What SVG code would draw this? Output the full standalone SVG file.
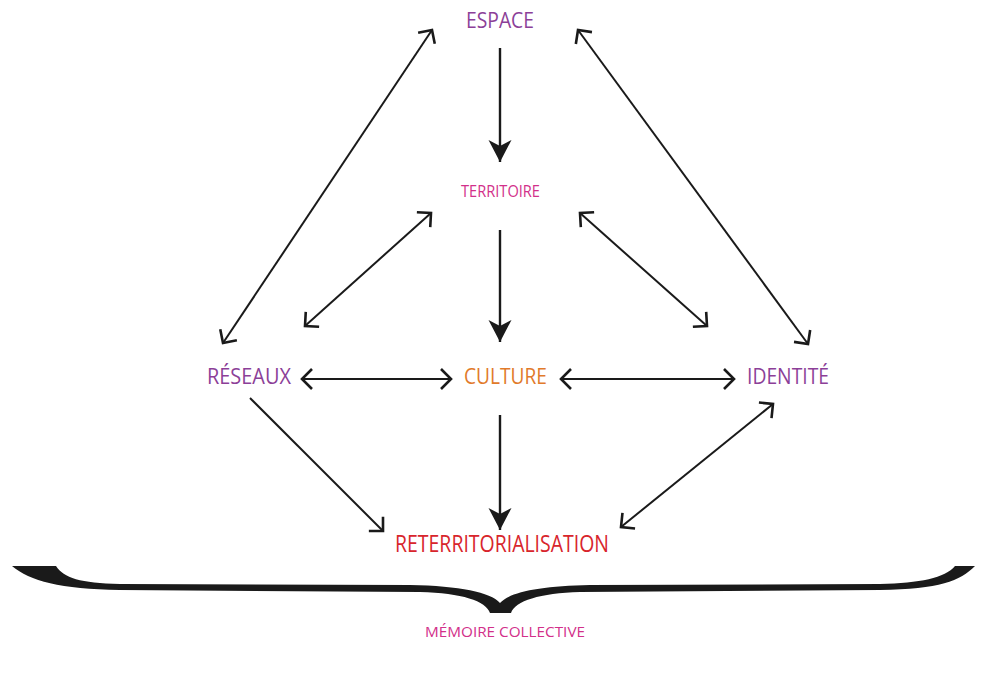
<svg xmlns="http://www.w3.org/2000/svg" width="985" height="673" viewBox="0 0 985 673">
<style>
.t{font-family:"Open Sans","Noto Sans","Liberation Sans",sans-serif;}
.purple{fill:#8c3f98;}
.mag{fill:#d2308a;}
.orange{fill:#e17a2a;}
.red{fill:#d8252c;}
.c{stroke:#1a1a1a;stroke-width:2;fill:none;}
.v{stroke:#1a1a1a;stroke-width:2.4;fill:none;}
</style>
<defs>
<marker id="open" markerUnits="userSpaceOnUse" markerWidth="30" markerHeight="30" refX="0" refY="0" viewBox="-15 -15 30 30" orient="auto-start-reverse" overflow="visible">
<path d="M-10,-10 L0,0 L-10,10" fill="none" stroke="#1a1a1a" stroke-width="2.6" stroke-linejoin="miter"/>
</marker>
<marker id="solid" markerUnits="userSpaceOnUse" markerWidth="30" markerHeight="30" refX="0" refY="0" viewBox="-25 -15 30 30" orient="auto" overflow="visible">
<path d="M0,0 L-22,-11.5 L-16,0 L-22,11.5 Z" fill="#1a1a1a"/>
</marker>
</defs>
<rect width="985" height="673" fill="#ffffff"/>
<g id="connectors">
<line class="v" x1="500" y1="48" x2="500" y2="162" marker-end="url(#solid)"/>
<line class="v" x1="500" y1="230" x2="500" y2="342" marker-end="url(#solid)"/>
<line class="v" x1="500" y1="415" x2="500" y2="530" marker-end="url(#solid)"/>
<line class="c" x1="223" y1="343" x2="432" y2="30" marker-start="url(#open)" marker-end="url(#open)"/>
<line class="c" x1="578" y1="30" x2="808" y2="344" marker-start="url(#open)" marker-end="url(#open)"/>
<line class="c" x1="305" y1="326" x2="431" y2="213" marker-start="url(#open)" marker-end="url(#open)"/>
<line class="c" x1="580" y1="213" x2="707" y2="326" marker-start="url(#open)" marker-end="url(#open)"/>
<line class="c" x1="302" y1="379" x2="451" y2="379" marker-start="url(#open)" marker-end="url(#open)"/>
<line class="c" x1="561" y1="379" x2="734" y2="379" marker-start="url(#open)" marker-end="url(#open)"/>
<line class="c" x1="250" y1="398" x2="383" y2="531" marker-end="url(#open)"/>
<line class="c" x1="621" y1="527" x2="773" y2="404" marker-start="url(#open)" marker-end="url(#open)"/>
</g>
<g id="espace"><text class="t purple" x="466" y="28" font-size="22" textLength="68" lengthAdjust="spacingAndGlyphs">ESPACE</text></g>
<g id="territoire"><text class="t mag" x="461" y="197" font-size="16" textLength="79" lengthAdjust="spacingAndGlyphs">TERRITOIRE</text></g>
<g id="reseaux"><text class="t purple" x="207" y="384" font-size="22" textLength="84" lengthAdjust="spacingAndGlyphs">RÉSEAUX</text></g>
<g id="culture"><text class="t orange" x="464" y="384" font-size="22" textLength="83" lengthAdjust="spacingAndGlyphs">CULTURE</text></g>
<g id="identite"><text class="t purple" x="747" y="384" font-size="22" textLength="82" lengthAdjust="spacingAndGlyphs">IDENTITÉ</text></g>
<g id="reterritorialisation"><text class="t red" x="395" y="552" font-size="23" textLength="214" lengthAdjust="spacingAndGlyphs">RETERRITORIALISATION</text></g>
<g id="brace"><path fill="#1a1a1a" d="M12,566 C30,581 60,589 120,590 L420,592 C462,593 486,601 490,613 L511,613 C515,601 540,593 580,592 L880,590 C940,589 960,581 975,566 L955,566 C945,578 920,583 880,584 L590,585 C540,586 510,592 500,603 C490,592 460,586 410,585 L120,584 C80,583 64,578 56,566 Z"/></g>
<g id="memoire"><text class="t mag" x="425" y="637" font-size="15" textLength="160" lengthAdjust="spacingAndGlyphs">MÉMOIRE COLLECTIVE</text></g>
</svg>
